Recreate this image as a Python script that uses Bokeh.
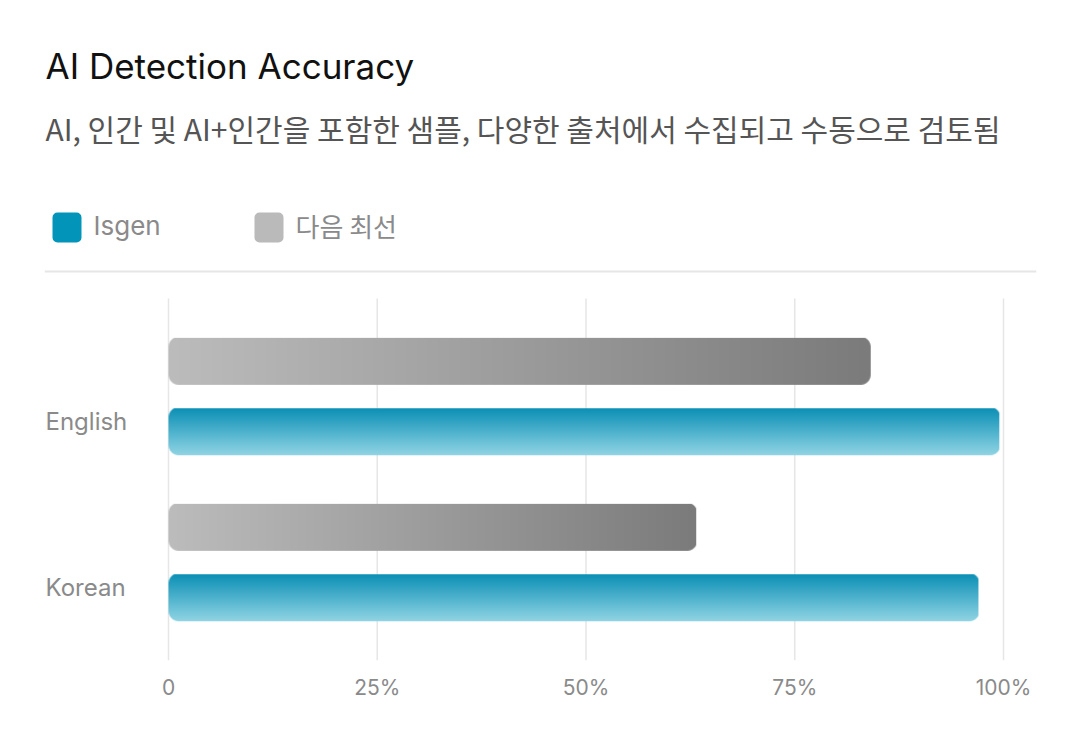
import numpy as np
from bokeh.plotting import figure
from bokeh.models import Range1d, FixedTicker, ColumnDataSource, Label, BoxAnnotation
from bokeh.core.properties import value
from bokeh.embed import file_html
from bokeh.resources import INLINE

# data
title = "AI Detection Accuracy"
subtitle = "AI, 인간 및 AI+인간을 포함한 샘플, 다양한 출처에서 수집되고 수동으로 검토됨"
languages = ["English", "Korean"]
series_names = ["Isgen", "다음 최선"]
isgen = [99.5, 97.0]
next_best = [84.1, 63.2]
x_ticks = [0, 25, 50, 75, 100]
x_tick_labels = ["0", "25%", "50%", "75%", "100%"]

LATIN = "Inter"
KOREAN = "Noto Sans CJK KR"
BLUE = "#0294b9"
GRAY = "#bababa"
TEXT_GRAY = "#8a8a8a"

# canvas layout (pixels): the frame spans header and chart, x axis sits below it
W, H = 1080, 738
F_LEFT, F_RIGHT, F_BOTTOM = 44, 1036, 660
ZERO_PX, HUNDRED_PX = 168, 1003          # where 0 % and 100 % sit
CHART_TOP_PX = 298                       # top of the grid lines

px_x = (HUNDRED_PX - ZERO_PX) / 100.0
X_START = -(ZERO_PX - F_LEFT) / px_x
X_END = 100 + (F_RIGHT - HUNDRED_PX) / px_x

px_y = 166.0                             # pixels per category step
Y_START = -0.59
CHART_TOP = Y_START + (F_BOTTOM - CHART_TOP_PX) / px_y
Y_END = Y_START + F_BOTTOM / px_y
BAR_H = 0.283
BAR_OFF = 0.212


def hex_rgb(h):
    h = h.lstrip("#")
    return np.array([int(h[i:i + 2], 16) for i in (0, 2, 4)], dtype=float)


def rounded_mask(nx, ny, r):
    # anti-aliased rounded rectangle coverage, in pixels
    X, Y = np.meshgrid(np.arange(nx) + 0.5, np.arange(ny) + 0.5)
    cx = np.clip(X, r, nx - r)
    cy = np.clip(Y, r, ny - r)
    d = np.hypot(X - cx, Y - cy)
    return np.clip(r - d + 0.5, 0, 1)


def gradient_bar(nx, ny, c0, c1, direction, r=10):
    # c0 -> c1 along x ("h") or from top to bottom ("v")
    c0, c1 = hex_rgb(c0), hex_rgb(c1)
    if direction == "h":
        t = np.linspace(0, 1, nx)[None, :] * np.ones((ny, 1))
    else:
        # row 0 is drawn at the bottom
        t = np.linspace(1, 0, ny)[:, None] * np.ones((1, nx))
    img = np.empty((ny, nx), dtype=np.uint32)
    view = img.view(dtype=np.uint8).reshape((ny, nx, 4))
    for k in range(3):
        view[:, :, k] = (c0[k] + (c1[k] - c0[k]) * t).astype(np.uint8)
    view[:, :, 3] = (rounded_mask(nx, ny, r) * 255).astype(np.uint8)
    return img


# header positions in canvas pixels -> frame-relative screen units
def sx(cx):
    return cx - F_LEFT


def sy(cy):
    return F_BOTTOM - cy


p = figure(width=W, height=H, x_range=Range1d(X_START, X_END), y_range=Range1d(Y_START, Y_END),
           output_backend="svg", toolbar_location=None,
           min_border_left=F_LEFT, min_border_right=W - F_RIGHT,
           min_border_top=0, min_border_bottom=H - F_BOTTOM,
           outline_line_color=None)

# ---------- header ----------
p.add_layout(Label(x=sx(45), y=sy(65), x_units="screen", y_units="screen", text=title,
                   text_font=LATIN, text_font_size="35px", text_color="#111111",
                   text_baseline="alphabetic", text_align="left"))
p.add_layout(Label(x=sx(45), y=sy(127), x_units="screen", y_units="screen", text=subtitle,
                   text_font=KOREAN, text_font_size="30px", text_color="#555555",
                   text_baseline="alphabetic", text_align="left"))

legend_x = [52, 254]
legend_colors = [BLUE, GRAY]
legend_fonts = [LATIN, KOREAN]
for lx, name, col, fnt in zip(legend_x, series_names, legend_colors, legend_fonts):
    p.add_layout(BoxAnnotation(left=sx(lx), right=sx(lx + 29), top=sy(212), bottom=sy(242),
                               left_units="screen", right_units="screen",
                               top_units="screen", bottom_units="screen",
                               fill_color=col, fill_alpha=1, line_color=None,
                               border_radius=5))
    p.add_layout(Label(x=sx(lx + 41), y=sy(225), x_units="screen", y_units="screen", text=name,
                       text_font=fnt, text_font_size="26px", text_color=TEXT_GRAY,
                       text_baseline="alphabetic", text_align="left"))

# separator line under the legend
p.add_layout(BoxAnnotation(left=sx(44), right=sx(1036), top=sy(270), bottom=sy(272),
                           left_units="screen", right_units="screen",
                           top_units="screen", bottom_units="screen",
                           fill_color="#e6e6e6", fill_alpha=1, line_color=None))

# ---------- grid lines (only over the chart area) ----------
p.segment(x0=x_ticks, y0=[Y_START] * len(x_ticks), x1=x_ticks, y1=[CHART_TOP] * len(x_ticks),
          line_color="#e6e6e6", line_width=1.5)

# ---------- bars ----------
bar_px_h = int(round(BAR_H * px_y))
cat_y = [len(languages) - 1 - i for i in range(len(languages))]
imgs, xs, ys, dws, dhs = [], [], [], [], []
for yc, g, b in zip(cat_y, next_best, isgen):
    imgs.append(gradient_bar(int(round(g * px_x)), bar_px_h, "#bcbcbc", "#7b7b7b", "h"))
    xs.append(0); ys.append(yc + BAR_OFF - BAR_H / 2); dws.append(g); dhs.append(BAR_H)
    imgs.append(gradient_bar(int(round(b * px_x)), bar_px_h, "#0a8fb5", "#8fd4e4", "v"))
    xs.append(0); ys.append(yc - BAR_OFF - BAR_H / 2); dws.append(b); dhs.append(BAR_H)

src = ColumnDataSource(dict(image=imgs, x=xs, y=ys, dw=dws, dh=dhs))
p.image_rgba(image="image", x="x", y="y", dw="dw", dh="dh", source=src)

# category labels at the left edge of the frame
label_shift = -0.15
p.text(x=[X_START + 1 / px_x] * len(languages), y=[c + label_shift for c in cat_y], text=languages,
       text_font=value(LATIN), text_font_size="24px", text_color=TEXT_GRAY,
       text_baseline="middle", text_align="left")

# ---------- axes ----------
p.yaxis.visible = False
p.grid.visible = False
p.xaxis.ticker = FixedTicker(ticks=x_ticks)
p.xaxis.major_label_overrides = {t: l for t, l in zip(x_ticks, x_tick_labels)}
p.xaxis.axis_line_color = None
p.xaxis.major_tick_line_color = None
p.xaxis.minor_tick_line_color = None
p.xaxis.major_label_text_font = LATIN
p.xaxis.major_label_text_color = TEXT_GRAY
p.xaxis.major_label_text_font_size = "21px"
p.xaxis.major_label_standoff = 8

open("out.html", "w").write(file_html(p, INLINE))
